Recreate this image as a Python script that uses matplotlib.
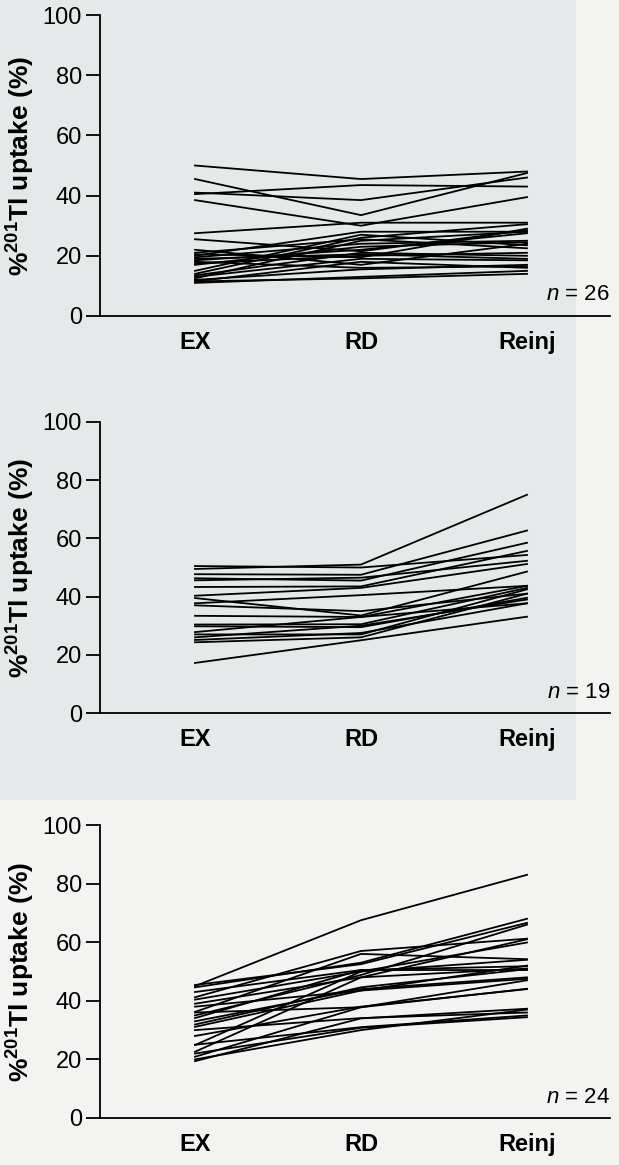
import matplotlib
matplotlib.use("Agg")
import matplotlib.pyplot as plt
from matplotlib.patches import Rectangle

plt.rcParams['font.family'] = ['Liberation Sans', 'DejaVu Sans']
plt.rcParams['mathtext.fontset'] = 'custom'
plt.rcParams['mathtext.rm'] = 'Liberation Sans'
plt.rcParams['mathtext.it'] = 'Liberation Sans:italic'
plt.rcParams['mathtext.bf'] = 'Liberation Sans:bold'

phases = ["EX", "RD", "Reinj"]
y_ticks = [0, 20, 40, 60, 80, 100]
ylabel = r"%$^{\mathbf{201}}$Tl uptake (%)"

# Panel 1 (n = 26): %201Tl uptake at EX, RD, Reinj
panel1 = [
    [50, 45.5, 48], [45.5, 33.5, 47.5], [41, 38.5, 46], [40.5, 43.5, 43],
    [38.5, 30, 39.5], [27.5, 31, 31], [25.5, 21.5, 28.5], [22, 17, 24],
    [21, 25.5, 22.5], [20.5, 19.5, 29], [20, 28, 28], [19.5, 24, 25],
    [19, 20.5, 19], [18.5, 22, 27.5], [18, 16, 16.5], [17.5, 20, 21],
    [17, 23, 24.5], [15, 27, 23.5], [14, 26, 30.5], [13.5, 21, 20],
    [13, 19, 18.5], [12.5, 25, 28], [12, 15.5, 17], [11.5, 12.5, 14],
    [11.5, 18, 16], [11, 13, 15],
]
# Panel 2 (n = 19)
panel2 = [
    [49.5, 51, 75], [50.5, 50, 54.3], [47.7, 47.5, 62.7], [46.3, 45.5, 58.5],
    [45.6, 46.5, 52.3], [43.3, 43.5, 55.7], [40.3, 43, 51.2], [39.5, 33.5, 48.6],
    [37.7, 40.5, 43.7], [37, 35, 41], [33.4, 33, 43.7], [30.4, 30.5, 43],
    [29.8, 29.5, 39.6], [27.8, 33, 37.7], [27, 27, 42.5], [26, 30, 39],
    [25.1, 27.5, 37.7], [24.3, 26, 41], [17.2, 25, 33.1],
]
# Panel 3 (n = 24)
panel3 = [
    [45, 67.5, 83], [44.6, 53, 68], [45.4, 52.5, 66.6], [41.2, 57, 61.2],
    [40.4, 50, 59.9], [36.2, 56, 54.2], [35, 48.8, 66], [34.1, 50.5, 51.8],
    [31.9, 44.6, 50.8], [31.1, 43.5, 47.5], [24.9, 50, 54], [22.6, 48, 51],
    [20.9, 37.8, 44.1], [19.4, 34, 37.3], [43, 50.5, 50.5], [39, 48, 61],
    [38, 43.5, 52], [36, 37.8, 47], [33, 44, 48], [30, 34.1, 36],
    [28, 38, 44], [25, 31, 35], [22, 30.8, 34.4], [20, 30, 37],
]
panels = [panel1, panel2, panel3]
n_labels = ["26", "19", "24"]

W, H = 619, 1165
fig = plt.figure(figsize=(W / 100, H / 100), dpi=100)
fig.patch.set_facecolor("#f3f3f1")
bg = Rectangle((0, 1 - 800 / H), 0.93, 800 / H, transform=fig.transFigure,
               facecolor="#e5e9e9", edgecolor="none", zorder=-10)
fig.add_artist(bg)

# (y pixel of 0, y pixel of 100)
pix = [(316, 15), (713, 422), (1118, 825)]
ax_left, ax_right = 100, 610
x_ex, x_reinj = 195, 527
unit = (x_reinj - x_ex) / 2.0

for data, (p0, p100), nl in zip(panels, pix, n_labels):
    ax = fig.add_axes([ax_left / W, 1 - p0 / H, (ax_right - ax_left) / W, (p0 - p100) / H])
    ax.set_facecolor("none")
    ax.set_zorder(1)
    for row in data:
        ax.plot(range(len(phases)), row, color="black", lw=1.3, solid_joinstyle="miter")
    ax.set_xlim((ax_left - x_ex) / unit, (ax_right - x_ex) / unit)
    ax.set_ylim(0, 100)
    ax.spines["top"].set_visible(False)
    ax.spines["right"].set_visible(False)
    ax.spines["left"].set_bounds(0, 100)
    ax.spines["left"].set_linewidth(1.3)
    ax.spines["bottom"].set_linewidth(1.3)
    ax.set_yticks(y_ticks)
    ax.set_yticklabels([str(t) for t in y_ticks], fontsize=17)
    ax.tick_params(axis="y", length=10, width=1.3, pad=3)
    ax.set_xticks(range(len(phases)))
    ax.set_xticklabels(phases, fontsize=17, fontweight="bold")
    ax.tick_params(axis="x", length=0, pad=11)
    ax.set_ylabel(ylabel, fontsize=19, fontweight="bold", labelpad=4)
    ax.text(1.0, 0.035, r"$\mathit{n}$ = " + nl, transform=ax.transAxes,
            ha="right", va="bottom", fontsize=16)

fig.savefig("out.png", dpi=100, facecolor=fig.get_facecolor())
